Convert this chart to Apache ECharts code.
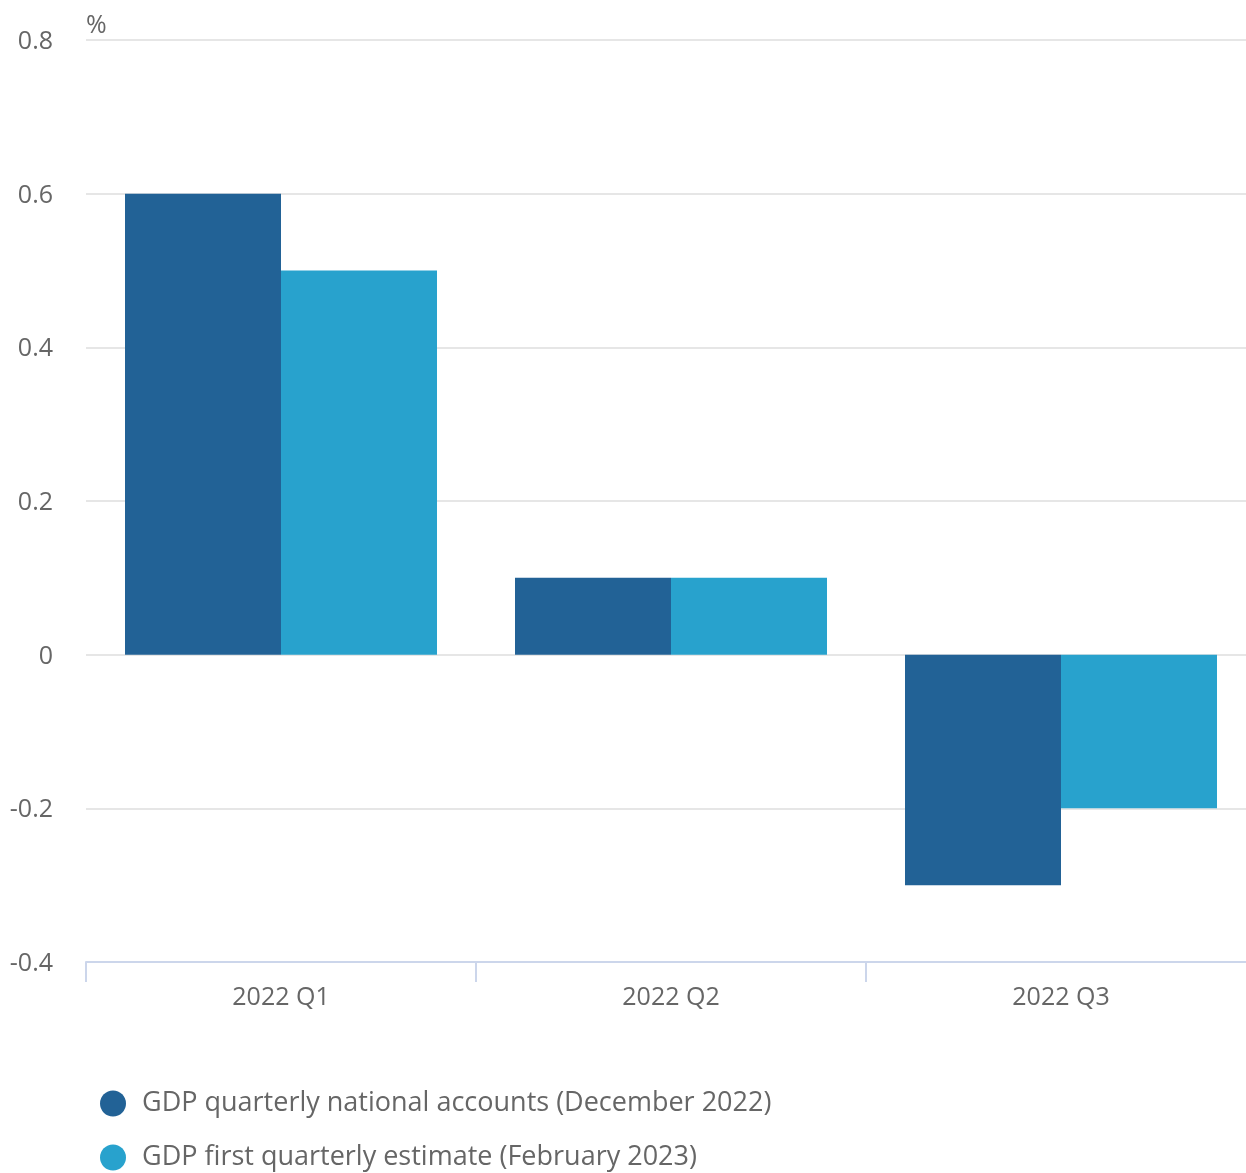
<!DOCTYPE html>
<html>
<head>
<meta charset="utf-8">
<script src="https://cdn.jsdelivr.net/npm/echarts@6/dist/echarts.min.js"></script>
<style>
html,body{margin:0;padding:0;background:#fff;}
#chart{width:1246px;height:1173px;}
</style>
</head>
<body>
<div id="chart"></div>
<script>
const categories = ['2022 Q1', '2022 Q2', '2022 Q3'];
const seriesNames = ['GDP quarterly national accounts (December 2022)', 'GDP first quarterly estimate (February 2023)'];
const decemberValues = [0.6, 0.1, -0.3];
const februaryValues = [0.5, 0.1, -0.2];
const colors = ['#226296', '#28a2cd'];

const chart = echarts.init(document.getElementById('chart'));
const font = '"Open Sans", sans-serif';
function legendFor(name, top) {
  return {
    orient: 'horizontal',
    left: 100,
    top: top,
    padding: 0,
    icon: 'circle',
    itemWidth: 26,
    itemHeight: 26,
    textStyle: { color: '#666', fontSize: 27, fontFamily: font, padding: [0, 0, 0, 11] },
    data: [name]
  };
}
chart.setOption({
  animation: false,
  color: colors,
  textStyle: { fontFamily: font },
  grid: { left: 86, right: -10, top: 40, bottom: 211, containLabel: false, outerBoundsMode: 'none' },
  legend: [legendFor(seriesNames[0], 1090), legendFor(seriesNames[1], 1144)],
  xAxis: {
    type: 'category',
    data: categories,
    axisLine: { onZero: false, lineStyle: { color: '#ccd6eb', width: 2 } },
    axisTick: { show: true, length: 20, lineStyle: { color: '#ccd6eb', width: 2 } },
    axisLabel: { color: '#666', fontSize: 25, margin: 23, fontFamily: font }
  },
  yAxis: {
    type: 'value',
    min: -0.4,
    max: 0.8,
    interval: 0.2,
    name: '%',
    nameLocation: 'end',
    nameGap: 2,
    nameTextStyle: { color: '#666', fontSize: 25, align: 'left', fontFamily: font },
    axisLine: { show: false },
    axisTick: { show: false },
    splitLine: { lineStyle: { color: '#e6e6e6', width: 2 } },
    axisLabel: {
      margin: 33,
      formatter: v => '{a|' + String(Math.round(v * 10) / 10) + '}',
      rich: { a: { color: '#666', fontSize: 25, fontFamily: font, padding: [4, 0, 0, 0] } }
    }
  },
  series: [
    { name: seriesNames[0], type: 'bar', data: decemberValues, barGap: '0%', barCategoryGap: '20%' },
    { name: seriesNames[1], type: 'bar', data: februaryValues, barGap: '0%', barCategoryGap: '20%' }
  ]
});
</script>
</body>
</html>
